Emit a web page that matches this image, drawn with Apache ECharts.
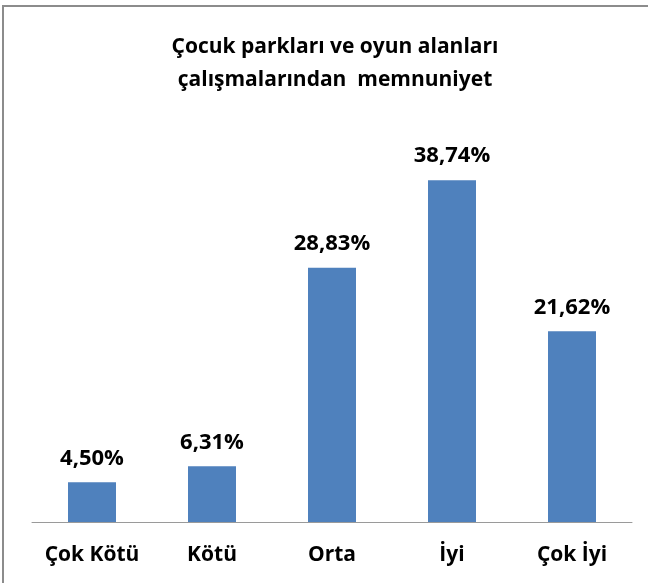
<!DOCTYPE html>
<html>
<head>
<meta charset="utf-8">
<script src="https://cdn.jsdelivr.net/npm/echarts@6/dist/echarts.min.js"></script>
<style>
  html, body { margin: 0; padding: 0; background: #fff; }
  #chart { width: 648px; height: 583px; }
</style>
</head>
<body>
<div id="chart"></div>
<script>
// kategoriler ve yüzdeler
const categories = ['Çok Kötü', 'Kötü', 'Orta', 'İyi', 'Çok İyi']
const percents = [4.50, 6.31, 28.83, 38.74, 21.62]
const titleLines = ['Çocuk parkları ve oyun alanları', 'çalışmalarından  memnuniyet']

const FONT = 'Open Sans'

let myChart = echarts.init(document.getElementById('chart'))

const option = {
    animation: false,
    title: {
        text: titleLines.join('\n'),
        left: 330,
        textAlign: 'center',
        top: 26,
        textStyle: {fontFamily: FONT, fontWeight: 'bold', fontSize: 21, lineHeight: 33, color: '#000'}
    },
    graphic: [{
        type: 'rect',
        shape: {x: 3, y: 6, width: 700, height: 700},
        style: {fill: 'none', stroke: '#8c8c8c', lineWidth: 2}
    }],
    grid: {left: 32, right: 16, top: 125, bottom: 61},
    xAxis: {
        type: 'category',
        data: categories,
        axisTick: {show: false},
        axisLine: {lineStyle: {color: '#9a9a9a', width: 1}},
        axisLabel: {interval: 0, margin: 23, fontFamily: FONT, fontWeight: 'bold', fontSize: 21, color: '#000'}
    },
    yAxis: {
        type: 'value',
        min: 0,
        max: 45,
        show: false,
        splitLine: {show: false}
    },
    series: [{
        type: 'bar',
        data: percents,
        barWidth: '40%',
        itemStyle: {color: '#4F81BD'},
        label: {
            show: true,
            position: 'top',
            distance: 13,
            fontFamily: FONT,
            fontWeight: 'bold',
            fontSize: 22,
            color: '#000',
            formatter: p => p.value.toFixed(2).replace('.', ',') + '%'
        }
    }]
}

myChart.setOption(option)
</script>
</body>
</html>
